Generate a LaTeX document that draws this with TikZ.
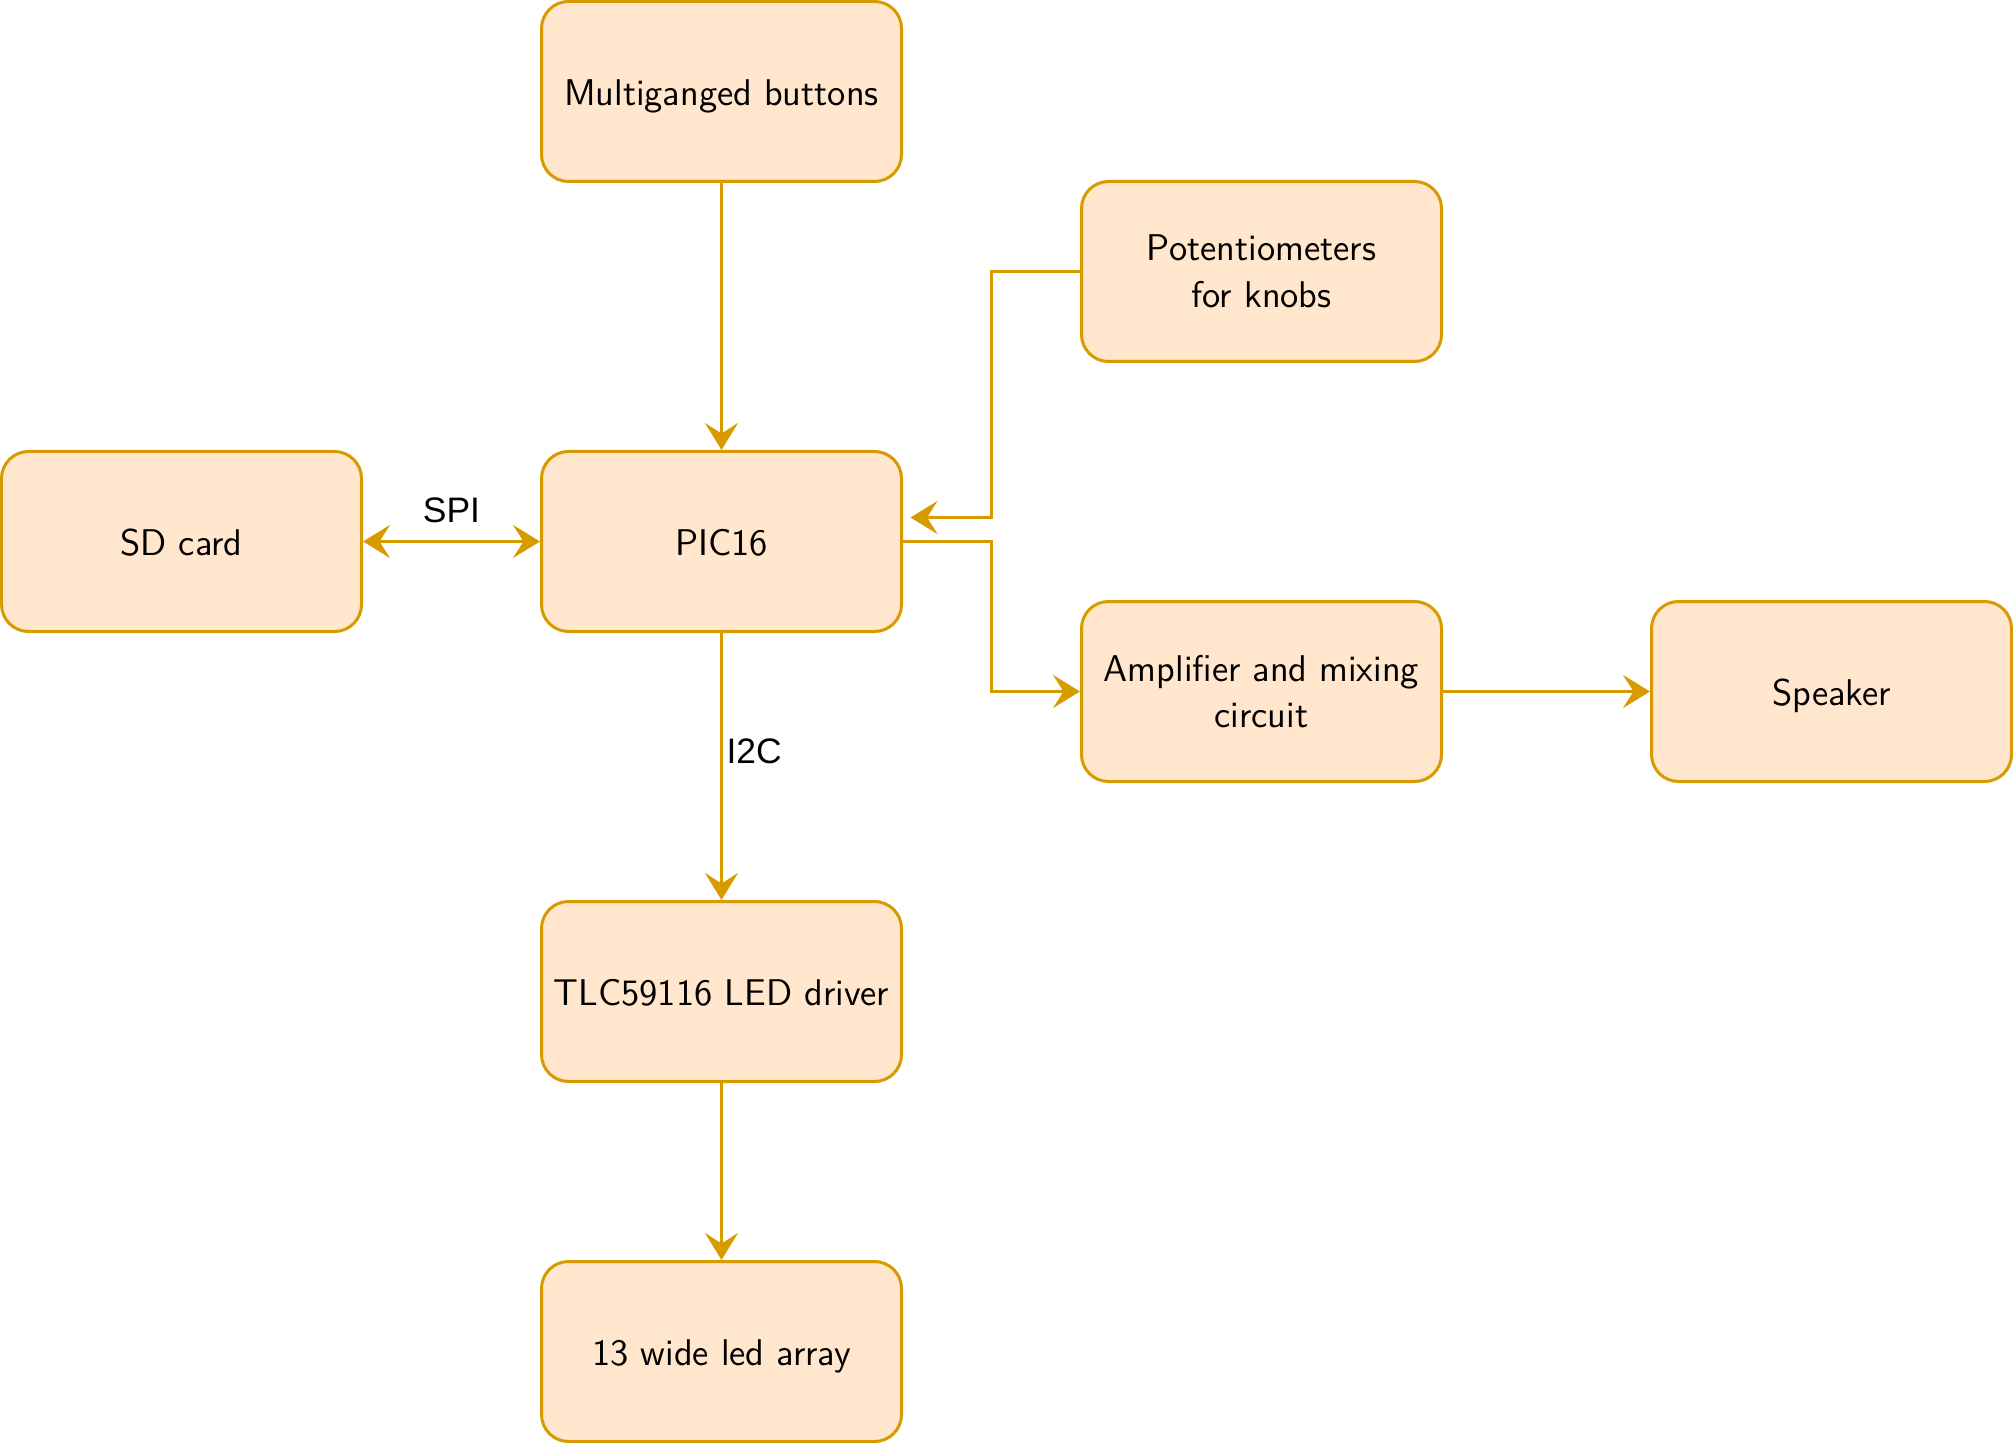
\documentclass[tikz,border=0pt]{standalone}
\usepackage{fontspec}
\newfontfamily\lblfont{Liberation Sans}
\usetikzlibrary{arrows.meta}
\definecolor{boxfill}{HTML}{FFE6CC}
\definecolor{boxline}{HTML}{D79B00}
\begin{document}
\begin{tikzpicture}[x=1pt,y=-1pt,
  blkbase/.style={draw=boxline,fill=boxfill,line width=1pt,rounded corners=9pt,
    minimum width=120pt,minimum height=60pt,inner sep=0pt,align=center,
    font=\sffamily\fontsize{12.4pt}{15.6pt}\selectfont},
  blk/.style={blkbase,text height=10.6pt,text depth=1pt},
  blktwo/.style={blkbase},
  conn/.style={draw=boxline,line width=1pt,-{Stealth[length=9pt,width=11pt,inset=3.5pt]}},
  biconn/.style={draw=boxline,line width=1pt,{Stealth[length=9pt,width=11pt,inset=3.5pt]}-{Stealth[length=9pt,width=11pt,inset=3.5pt]}},
  lbl/.style={font=\lblfont\fontsize{11.8pt}{14pt}\selectfont,inner sep=0pt}]
\useasboundingbox (-0.5,-0.5) rectangle (670.5,480.5);
\node[blk] (btn) at (240,30) {Multiganged buttons};
\node[blktwo] (pot) at (420,90) {Potentiometers\\for knobs};
\node[blk] (sd) at (60,180) {SD card};
\node[blk] (pic) at (240,180) {PIC16};
\node[blktwo] (amp) at (420,230) {Amplifier and mixing\\circuit};
\node[blk] (spk) at (610,230) {Speaker};
\node[blk] (tlc) at (240,330) {TLC59116 LED driver};
\node[blk] (led) at (240,450) {13 wide led array};
\coordinate (potin) at (303,172);
\draw[conn] (btn) -- (pic);
\draw[conn] (pot.west) -- (330,90) |- (potin);
\draw[conn] (pic.east) -- (330,180) |- (amp.west);
\draw[conn] (amp) -- (spk);
\draw[biconn] (sd) -- node[lbl,above=5.6pt] (spi) {SPI} (pic);
\draw[conn] (pic) -- (tlc);
\node[lbl,anchor=west] (i2c) at (241.5,250) {I2C};
\draw[conn] (tlc) -- (led);
\end{tikzpicture}
\end{document}
